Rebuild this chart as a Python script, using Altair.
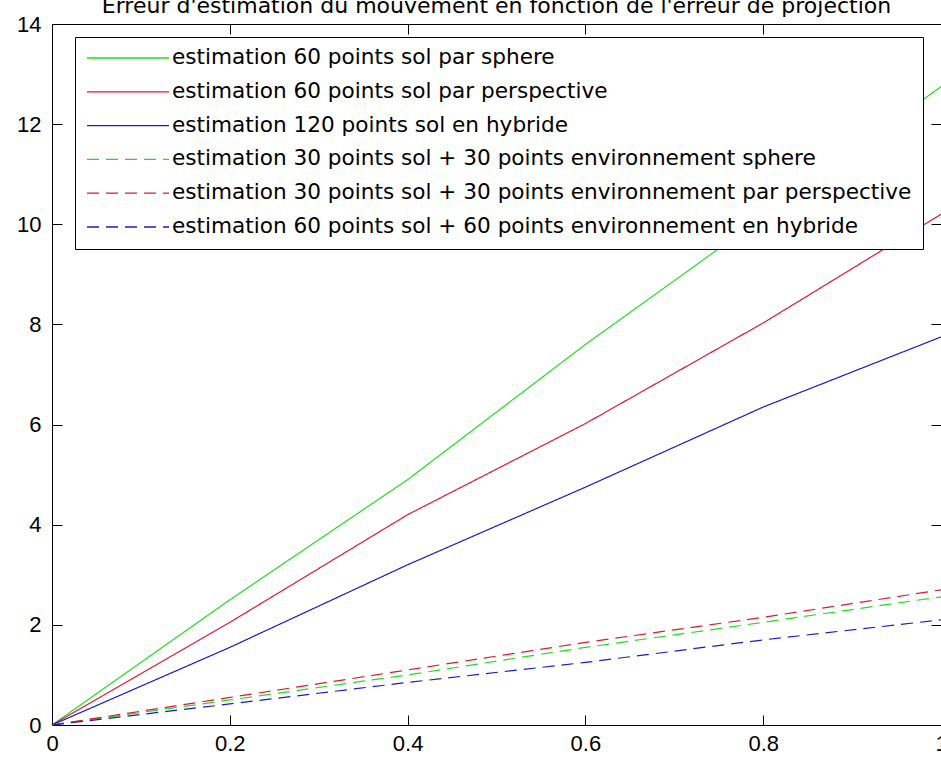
import altair as alt
import pandas as pd

x_vals = [0.0, 0.2, 0.4, 0.6, 0.8, 1.0]
series_names = [
    "estimation 60 points sol par sphere",
    "estimation 60 points sol par perspective",
    "estimation 120 points sol en hybride",
    "estimation 30 points sol + 30 points environnement sphere",
    "estimation 30 points sol + 30 points environnement par perspective",
    "estimation 60 points sol + 60 points environnement en hybride",
]
green_solid = [0.0, 2.5, 4.9, 7.6, 10.15, 12.75]
red_solid = [0.0, 2.05, 4.2, 6.02, 8.03, 10.2]
blue_solid = [0.0, 1.55, 3.2, 4.75, 6.35, 7.75]
green_dash = [0.0, 0.5, 1.0, 1.55, 2.05, 2.56]
red_dash = [0.0, 0.55, 1.1, 1.65, 2.15, 2.7]
blue_dash = [0.0, 0.42, 0.85, 1.25, 1.7, 2.1]
all_values = [green_solid, red_solid, blue_solid, green_dash, red_dash, blue_dash]

x_ticks = [0, 0.2, 0.4, 0.6, 0.8, 1]
y_ticks = [0, 2, 4, 6, 8, 10, 12, 14]
title_text = "Erreur d'estimation du mouvement en fonction de l'erreur de projection"

colors = ["#22dd22", "#dd1a33", "#1a1acc", "#22dd22", "#dd1a33", "#1a1acc"]
dashes = [[1, 0], [1, 0], [1, 0], [12, 7], [12, 7], [12, 7]]

rows = []
for name, vals in zip(series_names, all_values):
    for xv, yv in zip(x_vals, vals):
        rows.append({"err": xv, "val": yv, "series": name})
df = pd.DataFrame(rows)

W, H = 889, 701
FONT = "Liberation Sans"
LFONT = "DejaVu Sans"

legend = alt.Legend(
    title=None,
    orient="none",
    legendX=23,
    legendY=13,
    symbolType="stroke",
    symbolSize=6724,
    symbolStrokeWidth=1.3,
    clipHeight=20,
    rowPadding=11.8,
    labelOffset=2,
    labelFont=LFONT,
    labelFontSize=21.6,
    labelColor="black",
    labelLimit=2000,
    padding=11,
    strokeColor="black",
    fillColor="white",
)

xscale = alt.Scale(domain=[0, 1], nice=False)
yscale = alt.Scale(domain=[0, 14], nice=False)

lines = alt.Chart(df).mark_line(strokeWidth=1.2).encode(
    x=alt.X("err:Q", scale=xscale,
            axis=alt.Axis(orient="bottom", values=x_ticks, ticks=False, domain=False, grid=False,
                          format="~g",
                          labelFont=FONT, labelFontSize=22, labelColor="black", labelPadding=8,
                          title=None, labelFlush=False)),
    y=alt.Y("val:Q", scale=yscale,
            axis=alt.Axis(orient="left", values=y_ticks, ticks=False, domain=False, grid=False,
                          format="d",
                          labelFont=FONT, labelFontSize=22, labelColor="black", labelPadding=11,
                          title=None, labelFlush=False)),
    color=alt.Color("series:N", scale=alt.Scale(domain=series_names, range=colors), legend=legend),
    strokeDash=alt.StrokeDash("series:N", scale=alt.Scale(domain=series_names, range=dashes), legend=legend),
    detail="series:N",
)

tick_common = dict(labels=False, domain=False, grid=False, title=None, tickSize=10,
                   tickColor="black", tickWidth=1)

ticks_a = alt.Chart(df).mark_point(opacity=0).encode(
    x=alt.X("err:Q", scale=xscale, axis=alt.Axis(orient="bottom", offset=-H, values=x_ticks, **tick_common)),
    y=alt.Y("val:Q", scale=yscale, axis=alt.Axis(orient="left", offset=-W, values=y_ticks, **tick_common)),
)
ticks_b = alt.Chart(df).mark_point(opacity=0).encode(
    x=alt.X("err:Q", scale=xscale, axis=alt.Axis(orient="top", offset=-H, values=x_ticks, **tick_common)),
    y=alt.Y("val:Q", scale=yscale, axis=alt.Axis(orient="right", offset=-W, values=y_ticks, **tick_common)),
)

chart = alt.layer(lines, ticks_a, ticks_b).resolve_axis(x="independent", y="independent").properties(
    width=W,
    height=H,
    title=alt.TitleParams(title_text, font=LFONT, fontSize=22, fontWeight="normal", color="black",
                          anchor="middle", offset=8, baseline="alphabetic", dy=30),
    autosize=alt.AutoSizeParams(type="none"),
    padding={"left": 52, "top": 24, "right": 0, "bottom": 32},
    background="white",
).configure_view(stroke="black", strokeWidth=1)

chart.save("out.html", embed_options={"renderer": "svg", "actions": False})
